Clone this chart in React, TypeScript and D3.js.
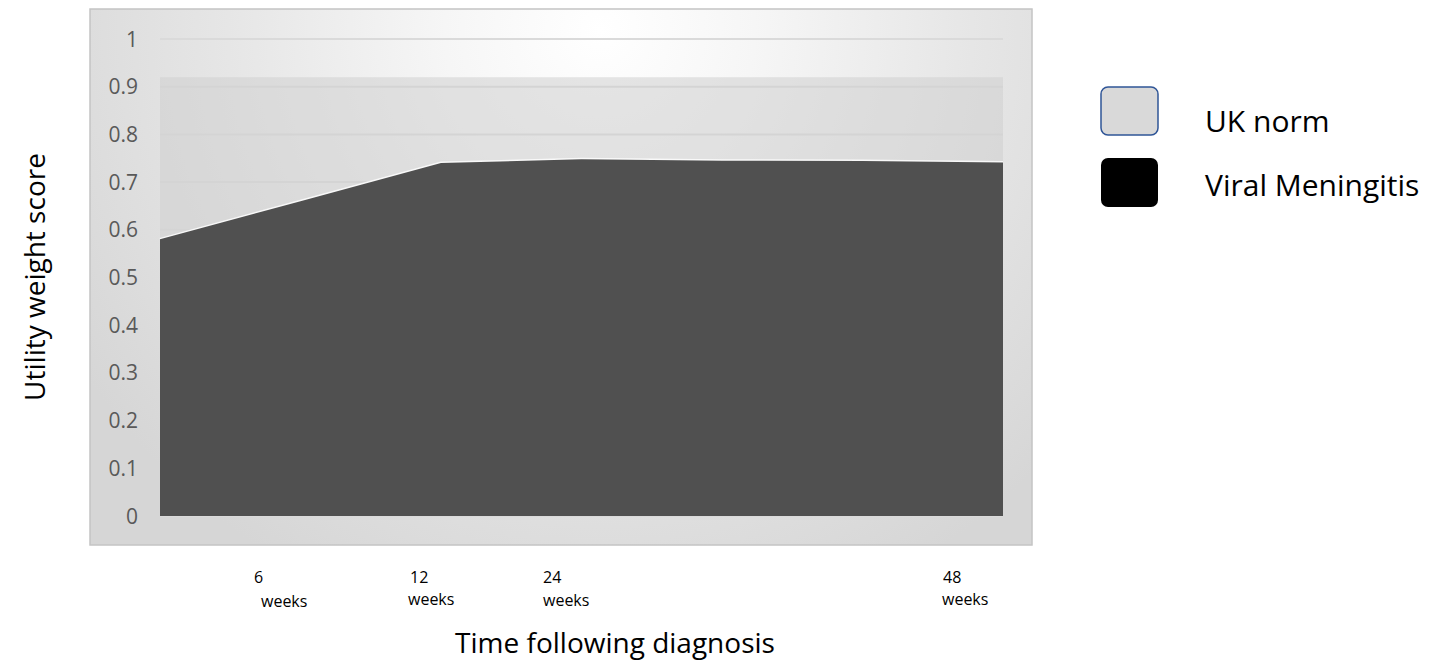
import React from "react";
import * as d3 from "d3";

// ---- data ----
const timePoints = ["t1", "t2", "t3", "t4", "t5", "t6", "t7"];
const ukNorm = [0.92, 0.92, 0.92, 0.92, 0.92, 0.92, 0.92];
const viralMeningitis = [0.58, 0.66, 0.74, 0.748, 0.745, 0.744, 0.741];
const yTicks = [0, 0.1, 0.2, 0.3, 0.4, 0.5, 0.6, 0.7, 0.8, 0.9, 1];
const xLabels = [
  { top: "6", bottom: "weeks" },
  { top: "12", bottom: "weeks" },
  { top: "24", bottom: "weeks" },
  { top: "48", bottom: "weeks" },
];
const legendItems = ["UK norm", "Viral Meningitis"];

const FONT = "'Open Sans', 'Noto Sans', sans-serif";

export default function App() {
  const x = d3.scalePoint<string>().domain(timePoints).range([160, 1003]);
  const y = d3.scaleLinear().domain([0, 1]).range([516, 39]);

  const area = d3
    .area<number>()
    .x((_, i) => x(timePoints[i]) as number)
    .y0(y(0))
    .y1((d) => y(d));
  const line = d3
    .line<number>()
    .x((_, i) => x(timePoints[i]) as number)
    .y((d) => y(d));

  // manual positions for the x labels (text boxes in original)
  const xLabelPos = [
    { tx: 254, bx: 261, ty: 583, by: 607 },
    { tx: 410, bx: 408, ty: 583, by: 605 },
    { tx: 543, bx: 543, ty: 583, by: 606 },
    { tx: 943, bx: 942, ty: 583, by: 605 },
  ];

  return (
    <svg
      width={1441}
      height={666}
      style={{ position: "absolute", left: 0, top: 0 }}
    >
      <defs>
        <radialGradient
          id="bg"
          gradientUnits="userSpaceOnUse"
          cx={600}
          cy={30}
          r={620}
          fx={600}
          fy={30}
        >
          <stop offset="0" stopColor="#ffffff" />
          <stop offset="0.25" stopColor="#f6f6f6" />
          <stop offset="0.6" stopColor="#e6e6e6" />
          <stop offset="1" stopColor="#d6d6d6" />
        </radialGradient>
      </defs>

      {/* chart frame */}
      <rect
        x={90}
        y={9}
        width={942}
        height={536}
        fill="url(#bg)"
        stroke="#c4c4c4"
        strokeWidth={1.5}
      />

      {/* gridlines */}
      {yTicks.map((t) => (
        <line
          key={t}
          x1={160}
          x2={1003}
          y1={y(t)}
          y2={y(t)}
          stroke="#dadada"
          strokeWidth={2}
        />
      ))}

      {/* UK norm */}
      <path d={area(ukNorm) ?? ""} fill="#cfcfcf" fillOpacity={0.55} />

      {/* Viral meningitis */}
      <path
        d={line(viralMeningitis) ?? ""}
        fill="none"
        stroke="#ffffff"
        strokeWidth={3}
        strokeOpacity={0.8}
      />
      <path d={area(viralMeningitis) ?? ""} fill="#505050" />

      {/* y tick labels */}
      {yTicks.map((t) => (
        <text
          key={t}
          x={138}
          y={y(t)}
          dy="0.36em"
          textAnchor="end"
          fontFamily={FONT}
          fontSize={21}
          fill="#595959"
        >
          {d3.format("~g")(t)}
        </text>
      ))}

      {/* y axis title */}
      <text
        transform={`translate(45,${277}) rotate(-90)`}
        textAnchor="middle"
        fontFamily={FONT}
        fontSize={28}
        fill="#000"
      >
        Utility weight score
      </text>

      {/* x labels */}
      {xLabels.map((l, i) => (
        <g key={i}>
          <text
            x={xLabelPos[i].tx}
            y={xLabelPos[i].ty}
            fontFamily={FONT}
            fontSize={16}
            fill="#000"
          >
            {l.top}
          </text>
          <text
            x={xLabelPos[i].bx}
            y={xLabelPos[i].by}
            fontFamily={FONT}
            fontSize={16}
            fill="#000"
          >
            {l.bottom}
          </text>
        </g>
      ))}

      {/* x axis title */}
      <text
        x={615}
        y={653}
        textAnchor="middle"
        fontFamily={FONT}
        fontSize={28}
        fill="#000"
      >
        Time following diagnosis
      </text>

      {/* legend */}
      <rect
        x={1101}
        y={87}
        width={57}
        height={48}
        rx={7}
        fill="#d9d9d9"
        stroke="#2f5597"
        strokeWidth={1.5}
      />
      <rect x={1101} y={158} width={57} height={49} rx={7} fill="#000" />
      {legendItems.map((name, i) => (
        <text
          key={name}
          x={1205}
          y={i === 0 ? 132 : 196}
          fontFamily={FONT}
          fontSize={30}
          fill="#000"
        >
          {name}
        </text>
      ))}
    </svg>
  );
}
